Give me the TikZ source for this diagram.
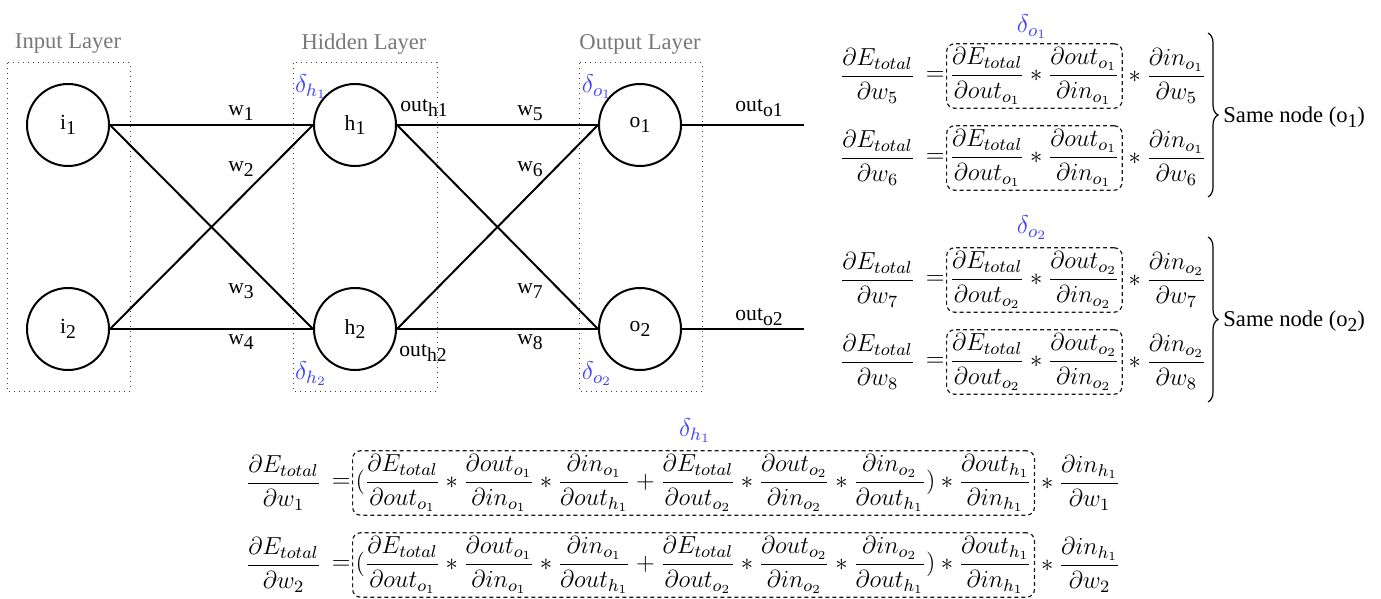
\RequirePackage{fix-cm}
\documentclass[tikz,border=0pt]{standalone}
\usepackage{amsmath}
\usepackage[no-math]{fontspec}
\setmainfont{Liberation Serif}
\usetikzlibrary{decorations.pathreplacing,positioning}
\definecolor{dblue}{RGB}{64,64,255}
\definecolor{ltitle}{RGB}{120,120,120}
\newcommand\sbt[1]{\raisebox{-2.4pt}{\fontsize{9.8}{11}\selectfont #1}}
\newcommand\pd[2]{\dfrac{\partial #1}{\partial #2}}
\begin{document}
\begin{tikzpicture}[x=0.5pt,y=-0.5pt,
  txt/.style={font=\fontsize{10.8}{13}\selectfont, inner sep=0pt},
  neuron/.style={circle,draw,line width=1pt,minimum size=41pt,inner sep=0pt,font=\fontsize{10.8}{13}\selectfont},
  conn/.style={line width=1pt},
  layerbox/.style={draw=black!75,dotted,line width=0.5pt},
  layertitle/.style={text=ltitle,font=\fontsize{11.3}{13}\selectfont,inner sep=0pt},
  delta/.style={text=dblue,font=\fontsize{12.8}{14}\selectfont,inner sep=0pt},
  eq/.style={font=\fontsize{12.3}{14}\selectfont,inner sep=0pt},
  dbox/.style={draw=black!90,dash pattern=on 2pt off 1.5pt,rounded corners=4pt,line width=0.6pt,inner xsep=1.5pt,inner ysep=2pt,font=\fontsize{12.3}{14}\selectfont},
  bracedec/.style={decorate,decoration={brace,amplitude=5pt},line width=0.6pt},
]
\useasboundingbox (0,0) rectangle (1381,599);

% layer boxes
\draw[layerbox] (7,63) rectangle (130,391);
\draw[layerbox] (293,63) rectangle (437,391);
\draw[layerbox] (579,63) rectangle (702,391);
\node[layertitle] (tin) at (68,44) {Input Layer};
\node[layertitle] (thid) at (364,44) {Hidden Layer};
\node[layertitle] (tout) at (640,44) {Output Layer};

% neurons
\node[neuron] (i1) at (68,125) {i\sbt{1}};
\node[neuron] (i2) at (68,329) {i\sbt{2}};
\node[neuron] (h1) at (355,125) {h\sbt{1}};
\node[neuron] (h2) at (355,329) {h\sbt{2}};
\node[neuron] (o1) at (640,125) {o\sbt{1}};
\node[neuron] (o2) at (640,329) {o\sbt{2}};
\coordinate (oe1) at (804,125);
\coordinate (oe2) at (804,329);

% connections
\draw[conn] (i1.east) -- (h1.west);
\draw[conn] (i1.east) -- (h2.west);
\draw[conn] (i2.east) -- (h1.west);
\draw[conn] (i2.east) -- (h2.west);
\draw[conn] (h1.east) -- (o1.west);
\draw[conn] (h1.east) -- (o2.west);
\draw[conn] (h2.east) -- (o1.west);
\draw[conn] (h2.east) -- (o2.west);
\draw[conn] (o1.east) -- (oe1);
\draw[conn] (o2.east) -- (oe2);

% weights
\node[txt] (w1) at (241,113) {w\sbt{1}};
\node[txt] (w2) at (241,169) {w\sbt{2}};
\node[txt] (w3) at (241,291) {w\sbt{3}};
\node[txt] (w4) at (241,342) {w\sbt{4}};
\node[txt] (w5) at (530,113) {w\sbt{5}};
\node[txt] (w6) at (530,169) {w\sbt{6}};
\node[txt] (w7) at (530,291) {w\sbt{7}};
\node[txt] (w8) at (530,342) {w\sbt{8}};

% outputs
\node[txt] (oh1) at (424,108) {out\sbt{h1}};
\node[txt] (oh2) at (423,353) {out\sbt{h2}};
\node[txt] (oo1) at (759,108) {out\sbt{o1}};
\node[txt] (oo2) at (759,317) {out\sbt{o2}};

% deltas
\node[delta] (dh1) at (311,87) {$\delta_{h_1}$};
\node[delta] (dh2) at (311,374) {$\delta_{h_2}$};
\node[delta] (do1) at (597,87) {$\delta_{o_1}$};
\node[delta] (do2) at (597,374) {$\delta_{o_2}$};

% equations o1
\node[delta] (edo1) at (1032,27) {$\delta_{o_1}$};
\node[dbox,anchor=west] (b5) at (946,76) {$\pd{E_{total}}{out_{o_1}} * \pd{out_{o_1}}{in_{o_1}}$};
\node[eq,anchor=east] (q5) at ([xshift=-0.5pt]b5.west) {$=$};
\node[eq,anchor=east] (l5) at ([xshift=-5pt]q5.west) {$\pd{E_{total}}{w_5}$};
\node[eq,anchor=west] (r5) at (b5.east) {${}*\pd{in_{o_1}}{w_5}$};

\node[dbox,anchor=west] (b6) at (946,158) {$\pd{E_{total}}{out_{o_1}} * \pd{out_{o_1}}{in_{o_1}}$};
\node[eq,anchor=east] (q6) at ([xshift=-0.5pt]b6.west) {$=$};
\node[eq,anchor=east] (l6) at ([xshift=-5pt]q6.west) {$\pd{E_{total}}{w_6}$};
\node[eq,anchor=west] (r6) at (b6.east) {${}*\pd{in_{o_1}}{w_6}$};

\coordinate (br1t) at (1208,33);
\coordinate (br1b) at (1208,197);
\draw[bracedec] (br1t) -- (br1b);
\node[txt,anchor=west,font=\fontsize{11.3}{13}\selectfont] (s1) at (1223,117) {Same node (o\sbt{1})};

% equations o2
\node[delta] (edo2) at (1032,228) {$\delta_{o_2}$};
\node[dbox,anchor=west] (b7) at (946,280) {$\pd{E_{total}}{out_{o_2}} * \pd{out_{o_2}}{in_{o_2}}$};
\node[eq,anchor=east] (q7) at ([xshift=-0.5pt]b7.west) {$=$};
\node[eq,anchor=east] (l7) at ([xshift=-5pt]q7.west) {$\pd{E_{total}}{w_7}$};
\node[eq,anchor=west] (r7) at (b7.east) {${}*\pd{in_{o_2}}{w_7}$};

\node[dbox,anchor=west] (b8) at (946,362) {$\pd{E_{total}}{out_{o_2}} * \pd{out_{o_2}}{in_{o_2}}$};
\node[eq,anchor=east] (q8) at ([xshift=-0.5pt]b8.west) {$=$};
\node[eq,anchor=east] (l8) at ([xshift=-5pt]q8.west) {$\pd{E_{total}}{w_8}$};
\node[eq,anchor=west] (r8) at (b8.east) {${}*\pd{in_{o_2}}{w_8}$};

\coordinate (br2t) at (1208,237);
\coordinate (br2b) at (1208,402);
\draw[bracedec] (br2t) -- (br2b);
\node[txt,anchor=west,font=\fontsize{11.3}{13}\selectfont] (s2) at (1223,321) {Same node (o\sbt{2})};

% equations h1
\node[delta] (edh1) at (695,431) {$\delta_{h_1}$};
\node[dbox,anchor=west] (b1) at (352,483) {$(\pd{E_{total}}{out_{o_1}} * \pd{out_{o_1}}{in_{o_1}} * \pd{in_{o_1}}{out_{h_1}} + \pd{E_{total}}{out_{o_2}} * \pd{out_{o_2}}{in_{o_2}} * \pd{in_{o_2}}{out_{h_1}}) * \pd{out_{h_1}}{in_{h_1}}$};
\node[eq,anchor=east] (q1) at ([xshift=-0.5pt]b1.west) {$=$};
\node[eq,anchor=east] (l1) at ([xshift=-5pt]q1.west) {$\pd{E_{total}}{w_1}$};
\node[eq,anchor=west] (r1) at (b1.east) {${}*\pd{in_{h_1}}{w_1}$};

\node[dbox,anchor=west] (b2) at (352,565) {$(\pd{E_{total}}{out_{o_1}} * \pd{out_{o_1}}{in_{o_1}} * \pd{in_{o_1}}{out_{h_1}} + \pd{E_{total}}{out_{o_2}} * \pd{out_{o_2}}{in_{o_2}} * \pd{in_{o_2}}{out_{h_1}}) * \pd{out_{h_1}}{in_{h_1}}$};
\node[eq,anchor=east] (q2) at ([xshift=-0.5pt]b2.west) {$=$};
\node[eq,anchor=east] (l2) at ([xshift=-5pt]q2.west) {$\pd{E_{total}}{w_2}$};
\node[eq,anchor=west] (r2) at (b2.east) {${}*\pd{in_{h_1}}{w_2}$};
\end{tikzpicture}
\end{document}
